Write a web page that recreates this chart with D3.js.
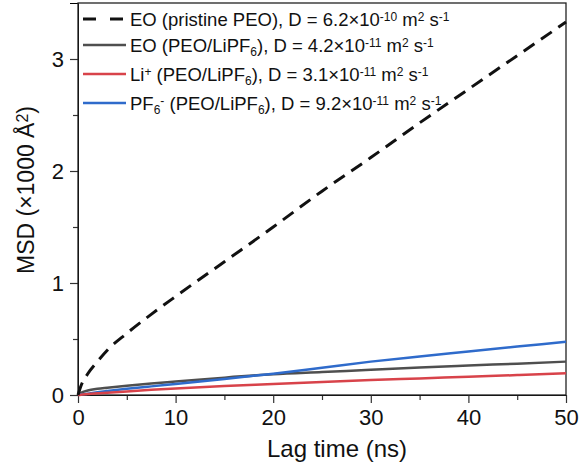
<!DOCTYPE html>
<html>
<head>
<meta charset="utf-8">
<script src="https://cdn.jsdelivr.net/npm/d3@7"></script>
<style>
  body { margin: 0; background: #fff; }
  svg text { font-family: "Liberation Sans", Arial, sans-serif; fill: #111; }
</style>
</head>
<body>
<svg id="chart" width="580" height="470"></svg>
<script>
// lag time (ns) and MSD (x1000 A^2)
var lagTime   = [0, 0.3, 1, 2, 3, 5, 7.5, 10, 15, 20, 25, 30, 35, 40, 45, 50];
var eoPristine = [0, 0.08, 0.19, 0.3, 0.4, 0.55, 0.72, 0.88, 1.19, 1.5, 1.82, 2.12, 2.43, 2.73, 3.03, 3.33];
var eoSalt    = [0, 0.02, 0.04, 0.055, 0.065, 0.083, 0.103, 0.12, 0.155, 0.185, 0.205, 0.225, 0.245, 0.263, 0.28, 0.298];
var liIon     = [0, 0.003, 0.008, 0.015, 0.02, 0.032, 0.046, 0.058, 0.08, 0.098, 0.116, 0.133, 0.148, 0.163, 0.178, 0.194];
var pf6Ion    = [0, 0.004, 0.012, 0.024, 0.035, 0.055, 0.077, 0.098, 0.142, 0.19, 0.244, 0.298, 0.344, 0.388, 0.432, 0.476];

var xTicks = [0, 10, 20, 30, 40, 50];
var yTicks = [0, 1, 2, 3];

var series = [
  { name: 'eoPristine', values: eoPristine, color: '#111', width: 3, dash: '13,8' },
  { name: 'eoSalt', values: eoSalt, color: '#4f4f4f', width: 2.5, dash: null },
  { name: 'li', values: liIon, color: '#d8434a', width: 2.5, dash: null },
  { name: 'pf6', values: pf6Ion, color: '#2f6bcb', width: 2.5, dash: null }
];

var svg = d3.select('#chart');
var margin = { left: 78, right: 14, top: 3, bottom: 75 };
var width = 580 - margin.left - margin.right,
  height = 470 - margin.top - margin.bottom;

var x = d3.scaleLinear().domain([0, 50]).range([0, width]);
var y = d3.scaleLinear().domain([0, 3.5]).range([height, 0]);

var g = svg.append('g').attr('transform', `translate(${margin.left},${margin.top})`);

// minor ticks
g.append('g')
  .attr('transform', `translate(0,${height})`)
  .call(d3.axisBottom(x).tickValues([5, 15, 25, 35, 45]).tickSize(5).tickFormat(''))
  .call(a => a.select('.domain').remove());
g.append('g')
  .call(d3.axisLeft(y).tickValues([0.5, 1.5, 2.5]).tickSize(5).tickFormat(''))
  .call(a => a.select('.domain').remove());

var xAxis = g.append('g')
  .attr('transform', `translate(0,${height})`)
  .call(d3.axisBottom(x).tickValues(xTicks).tickSize(8).tickPadding(6).tickFormat(d3.format('d')));
var yAxis = g.append('g')
  .call(d3.axisLeft(y).tickValues(yTicks).tickSize(8).tickPadding(6).tickFormat(d3.format('d')));

[xAxis, yAxis].forEach(a => {
  a.selectAll('text').style('font-size', '22px').attr('fill', '#111');
});
g.selectAll('.tick line').attr('stroke', '#333').attr('stroke-width', 1.2);

// frame
g.append('rect')
  .attr('width', width).attr('height', height)
  .attr('fill', 'none').attr('stroke', '#222').attr('stroke-width', 1.3);

var line = d3.line()
  .x((d, i) => x(lagTime[i]))
  .y(d => y(d))
  .curve(d3.curveMonotoneX);

// draw order: gray, blue, red, dashed on top
[series[1], series[3], series[2], series[0]].forEach(s => {
  g.append('path')
    .datum(s.values)
    .attr('d', line)
    .attr('fill', 'none')
    .attr('stroke', s.color)
    .attr('stroke-width', s.width)
    .attr('stroke-dasharray', s.dash);
});

// axis titles
svg.append('text')
  .attr('x', 337).attr('y', 457)
  .attr('text-anchor', 'middle')
  .style('font-size', '24px')
  .text('Lag time (ns)');

var yt = svg.append('text')
  .attr('transform', 'translate(34,190) rotate(-90)')
  .attr('text-anchor', 'middle')
  .style('font-size', '23px');
yt.append('tspan').text('MSD (\u00d71000 \u00c5');
yt.append('tspan').attr('baseline-shift', '40%').style('font-size', '16px').text('2');
yt.append('tspan').text(')');

// legend
var legendRows = [
  { s: series[0], y: 19, parts: [['EO (pristine PEO), D = 6.2\u00d710'], ['-10', 'sup'], [' m'], ['2', 'sup'], [' s'], ['-1', 'sup']] },
  { s: series[1], y: 45, parts: [['EO (PEO/LiPF'], ['6', 'sub'], ['), D = 4.2\u00d710'], ['-11', 'sup'], [' m'], ['2', 'sup'], [' s'], ['-1', 'sup']] },
  { s: series[2], y: 74, parts: [['Li'], ['+', 'sup'], [' (PEO/LiPF'], ['6', 'sub'], ['), D = 3.1\u00d710'], ['-11', 'sup'], [' m'], ['2', 'sup'], [' s'], ['-1', 'sup']] },
  { s: series[3], y: 103, parts: [['PF'], ['6', 'sub'], ['-', 'sup'], [' (PEO/LiPF'], ['6', 'sub'], ['), D = 9.2\u00d710'], ['-11', 'sup'], [' m'], ['2', 'sup'], [' s'], ['-1', 'sup']] }
];

var legend = svg.append('g');
legendRows.forEach(r => {
  legend.append('line')
    .attr('x1', 83).attr('x2', 126)
    .attr('y1', r.y).attr('y2', r.y)
    .attr('stroke', r.s.color)
    .attr('stroke-width', r.s.width)
    .attr('stroke-dasharray', r.s.dash ? '13,14' : null);
  var t = legend.append('text')
    .attr('x', 130).attr('y', r.y + 7)
    .style('font-size', '18.5px');
  r.parts.forEach(p => {
    var ts = t.append('tspan').text(p[0]);
    if (p[1] === 'sup') ts.attr('baseline-shift', '45%').style('font-size', '12px');
    if (p[1] === 'sub') ts.attr('baseline-shift', '-30%').style('font-size', '12px');
  });
});
</script>
</body>
</html>
